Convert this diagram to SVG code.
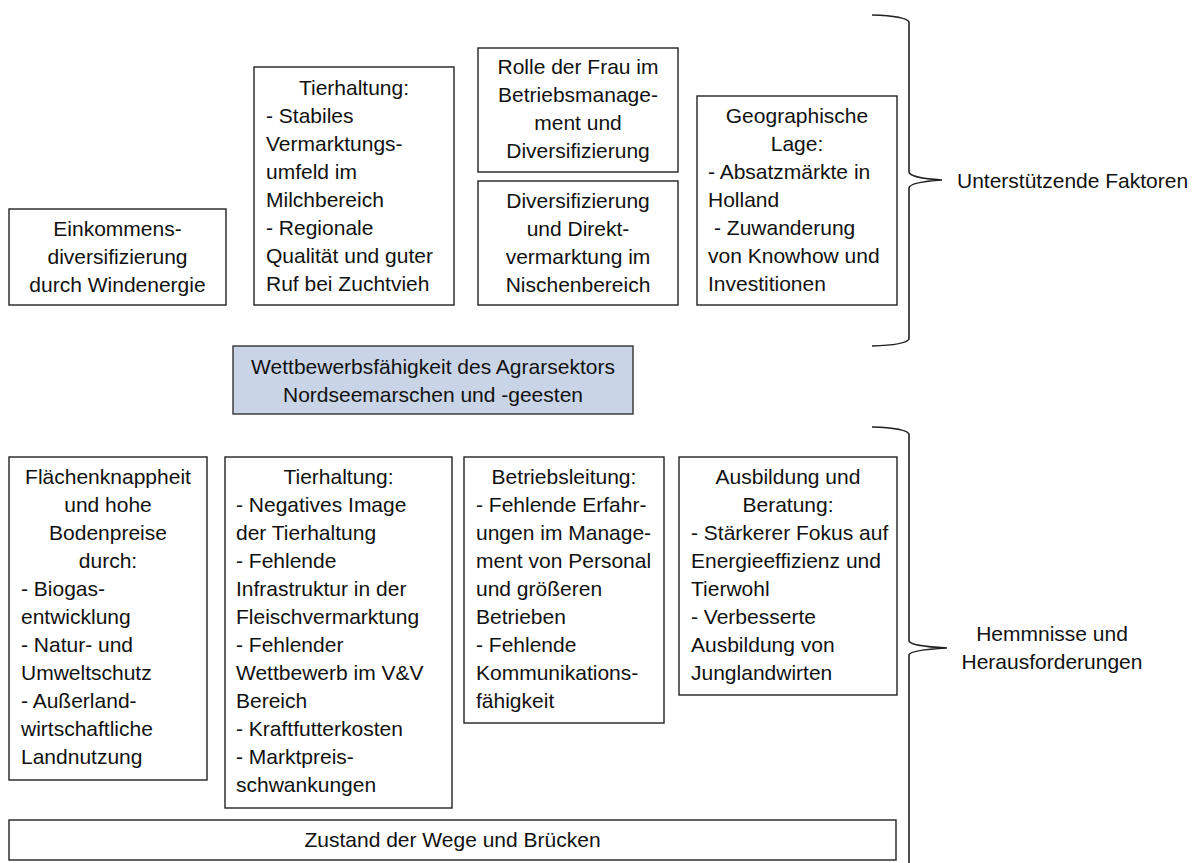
<svg xmlns="http://www.w3.org/2000/svg" width="1194" height="863" viewBox="0 0 1194 863">
<style>
.box{fill:#fff;stroke:#222;stroke-width:1.4}
.title{fill:#c9d5e7;stroke:#333;stroke-width:1.4}
text{font-family:"Liberation Sans",Arial,sans-serif;font-size:21px;fill:#111}
.c{text-anchor:middle}
.brace{fill:none;stroke:#222;stroke-width:1.6}
</style>
<rect width="1194" height="863" fill="#fff"/>

<g id="einkommen">
<rect class="box" x="9" y="209" width="217" height="96"/>
<text class="c" x="117.5" y="236">Einkommens-</text>
<text class="c" x="117.5" y="264">diversifizierung</text>
<text class="c" x="117.5" y="292">durch Windenergie</text>
</g>

<g id="tierhaltung-plus">
<rect class="box" x="254" y="67" width="200" height="238"/>
<text class="c" x="354" y="95">Tierhaltung:</text>
<text x="266" y="123">- Stabiles</text>
<text x="266" y="151">Vermarktungs-</text>
<text x="266" y="179">umfeld im</text>
<text x="266" y="207">Milchbereich</text>
<text x="266" y="235">- Regionale</text>
<text x="266" y="263">Qualität und guter</text>
<text x="266" y="291">Ruf bei Zuchtvieh</text>
</g>

<g id="rolle-frau">
<rect class="box" x="478" y="48" width="200" height="124"/>
<text class="c" x="578" y="74">Rolle der Frau im</text>
<text class="c" x="578" y="102">Betriebsmanage-</text>
<text class="c" x="578" y="130">ment und</text>
<text class="c" x="578" y="158">Diversifizierung</text>
</g>

<g id="direktvermarktung">
<rect class="box" x="478" y="181" width="200" height="124"/>
<text class="c" x="578" y="208">Diversifizierung</text>
<text class="c" x="578" y="236">und Direkt-</text>
<text class="c" x="578" y="264">vermarktung im</text>
<text class="c" x="578" y="292">Nischenbereich</text>
</g>

<g id="geographie">
<rect class="box" x="697" y="96" width="200" height="209"/>
<text class="c" x="797" y="123">Geographische</text>
<text class="c" x="797" y="151">Lage:</text>
<text x="708" y="179">- Absatzmärkte in</text>
<text x="708" y="207">Holland</text>
<text x="714" y="235">- Zuwanderung</text>
<text x="708" y="263">von Knowhow und</text>
<text x="708" y="291">Investitionen</text>
</g>

<g id="wettbewerb">
<rect class="title" x="233" y="346" width="400" height="68"/>
<text class="c" x="433" y="374">Wettbewerbsfähigkeit des Agrarsektors</text>
<text class="c" x="433" y="402">Nordseemarschen und -geesten</text>
</g>

<g id="flaechen">
<rect class="box" x="9" y="457" width="198" height="323"/>
<text class="c" x="108" y="484">Flächenknappheit</text>
<text class="c" x="108" y="512">und hohe</text>
<text class="c" x="108" y="540">Bodenpreise</text>
<text class="c" x="108" y="568">durch:</text>
<text x="21" y="596">- Biogas-</text>
<text x="21" y="624">entwicklung</text>
<text x="21" y="652">- Natur- und</text>
<text x="21" y="680">Umweltschutz</text>
<text x="21" y="708">- Außerland-</text>
<text x="21" y="736">wirtschaftliche</text>
<text x="21" y="764">Landnutzung</text>
</g>

<g id="tierhaltung-minus">
<rect class="box" x="225" y="457" width="227" height="351"/>
<text class="c" x="338.5" y="484">Tierhaltung:</text>
<text x="236" y="512">- Negatives Image</text>
<text x="236" y="540">der Tierhaltung</text>
<text x="236" y="568">- Fehlende</text>
<text x="236" y="596">Infrastruktur in der</text>
<text x="236" y="624">Fleischvermarktung</text>
<text x="236" y="652">- Fehlender</text>
<text x="236" y="680">Wettbewerb im V&amp;V</text>
<text x="236" y="708">Bereich</text>
<text x="236" y="736">- Kraftfutterkosten</text>
<text x="236" y="764">- Marktpreis-</text>
<text x="236" y="792">schwankungen</text>
</g>

<g id="betriebsleitung">
<rect class="box" x="464" y="457" width="200" height="266"/>
<text class="c" x="564" y="484">Betriebsleitung:</text>
<text x="476" y="512">- Fehlende Erfahr-</text>
<text x="476" y="540">ungen im Manage-</text>
<text x="476" y="568">ment von Personal</text>
<text x="476" y="596">und größeren</text>
<text x="476" y="624">Betrieben</text>
<text x="476" y="652">- Fehlende</text>
<text x="476" y="680">Kommunikations-</text>
<text x="476" y="708">fähigkeit</text>
</g>

<g id="ausbildung">
<rect class="box" x="679" y="457" width="218" height="238"/>
<text class="c" x="788" y="484">Ausbildung und</text>
<text class="c" x="788" y="512">Beratung:</text>
<text x="691" y="540">- Stärkerer Fokus auf</text>
<text x="691" y="568">Energieeffizienz und</text>
<text x="691" y="596">Tierwohl</text>
<text x="691" y="624">- Verbesserte</text>
<text x="691" y="652">Ausbildung von</text>
<text x="691" y="680">Junglandwirten</text>
</g>

<g id="wege">
<rect class="box" x="9" y="820" width="887" height="40"/>
<text class="c" x="452.5" y="847">Zustand der Wege und Brücken</text>
</g>

<g id="braces">
<path class="brace" d="M872,15 Q906,16 909,22 L909,172 Q910,178 942,180 Q910,182 909,188 L909,339 Q906,345 872,346"/>
<path class="brace" d="M872,427 Q906,428 909,434 L909,641 Q910,646 947,648 Q910,650 909,655 L909,870"/>
</g>

<g id="labels">
<text x="957" y="188">Unterstützende Faktoren</text>
<text class="c" x="1052" y="641">Hemmnisse und</text>
<text class="c" x="1052" y="669">Herausforderungen</text>
</g>
</svg>
